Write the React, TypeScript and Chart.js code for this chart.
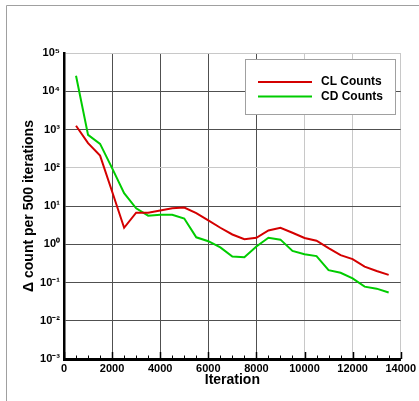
import React, { useEffect, useRef } from "react";
import { Chart, registerables } from "chart.js";

Chart.register(...registerables);

const iterations = [500, 1000, 1500, 2000, 2500, 3000, 3500, 4000, 4500, 5000, 5500, 6000, 6500, 7000, 7500, 8000, 8500, 9000, 9500, 10000, 10500, 11000, 11500, 12000, 12500, 13000, 13500];
const clCounts = [1250, 440, 208, 24, 2.7, 6.7, 6.7, 7.6, 8.7, 9.1, 6.5, 4.2, 2.7, 1.8, 1.35, 1.48, 2.3, 2.7, 2.0, 1.46, 1.24, 0.79, 0.52, 0.41, 0.26, 0.2, 0.158];
const cdCounts = [25500, 725, 420, 98, 21.6, 8.7, 5.6, 5.9, 5.9, 4.7, 1.52, 1.2, 0.83, 0.48, 0.46, 0.87, 1.48, 1.32, 0.67, 0.55, 0.49, 0.21, 0.18, 0.128, 0.078, 0.069, 0.055];
const yDecades = [1e-3, 1e-2, 1e-1, 1e0, 1e1, 1e2, 1e3, 1e4, 1e5];
const seriesNames = ["CL Counts", "CD Counts"];
const seriesColors = ["#d40000", "#00cc00"];

const SUP: Record<string, string> = { "-": "⁻", "0": "⁰", "1": "¹", "2": "²", "3": "³", "4": "⁴", "5": "⁵", "6": "⁶", "7": "⁷", "8": "⁸", "9": "⁹" };
const supStr = (n: number) => String(n).split("").map((c) => SUP[c] || c).join("");

const FONT = "Arial, 'Liberation Sans', Helvetica, sans-serif";

const framePlugin = {
  id: "frame",
  beforeDraw(chart: any) {
    const ctx = chart.ctx;
    ctx.save();
    ctx.fillStyle = "#ffffff";
    ctx.fillRect(0, 0, chart.width, chart.height);
    ctx.strokeStyle = "#a0a0a0";
    ctx.lineWidth = 1;
    ctx.beginPath();
    ctx.moveTo(6.5, chart.height + 5);
    ctx.lineTo(6.5, 5.5);
    ctx.lineTo(chart.width + 5, 5.5);
    ctx.stroke();
    ctx.restore();
  },
  afterDraw(chart: any) {
    const ctx = chart.ctx;
    const xs = chart.scales.x;
    const area = chart.chartArea;
    ctx.save();
    // inward ticks on bottom axis
    ctx.strokeStyle = "#000";
    for (let v = 0; v <= 14000; v += 500) {
      const px = Math.round(xs.getPixelForValue(v)) + 0.5;
      const major = v % 2000 === 0;
      ctx.lineWidth = major ? 1.5 : 1;
      ctx.beginPath();
      ctx.moveTo(px, area.bottom);
      ctx.lineTo(px, area.bottom - (major ? 7 : 3.5));
      ctx.stroke();
    }
    // legend box
    const bx = 245.5, by = 59.5, bw = 150, bh = 55;
    ctx.fillStyle = "#ffffff";
    ctx.fillRect(bx, by, bw, bh);
    ctx.strokeStyle = "#a0a0a0";
    ctx.lineWidth = 1;
    ctx.strokeRect(bx, by, bw, bh);
    const rows = [82, 96.5];
    seriesNames.forEach((name, i) => {
      ctx.strokeStyle = seriesColors[i];
      ctx.lineWidth = 2;
      ctx.beginPath();
      ctx.moveTo(258, rows[i]);
      ctx.lineTo(312, rows[i]);
      ctx.stroke();
      ctx.fillStyle = "#000";
      ctx.font = `bold 12px ${FONT}`;
      ctx.textBaseline = "middle";
      ctx.textAlign = "left";
      ctx.fillText(name, 321, rows[i]);
    });
    ctx.restore();
  },
};

export default function App() {
  const ref = useRef<HTMLCanvasElement | null>(null);
  useEffect(() => {
    if (!ref.current) return;
    const dark = "#505050";
    const light = "#c8c8c8";
    const chart = new Chart(ref.current, {
      type: "line",
      data: {
        datasets: seriesNames.map((name, i) => ({
          label: name,
          data: iterations.map((x, j) => ({ x, y: (i === 0 ? clCounts : cdCounts)[j] })),
          borderColor: seriesColors[i],
          backgroundColor: seriesColors[i],
          borderWidth: 2,
          pointRadius: 0,
          tension: 0,
          fill: false,
        })),
      },
      options: {
        animation: false,
        responsive: false,
        maintainAspectRatio: false,
        layout: { padding: { top: 53, right: 18, left: 0, bottom: 0 } },
        plugins: { legend: { display: false }, tooltip: { enabled: false } },
        scales: {
          x: {
            type: "linear",
            min: 0,
            max: 14000,
            ticks: {
              stepSize: 2000,
              padding: 3,
              color: "#000",
              font: { family: FONT, size: 11, weight: "bold" },
              maxRotation: 0,
              callback: (v: any) => String(v),
            },
            grid: {
              drawTicks: false,
              color: (c: any) => {
                const v = c.tick ? c.tick.value : 0;
                return v >= 10000 ? light : dark;
              },
              lineWidth: 1,
            },
            border: { display: true, color: "#000", width: 3 },
            title: {
              display: true,
              text: "Iteration",
              color: "#000",
              font: { family: FONT, size: 14, weight: "bold" },
              padding: { top: 0, bottom: 12 },
            },
            afterFit: (s: any) => {
              s.height = 42;
            },
          },
          y: {
            type: "logarithmic",
            min: 1e-3,
            max: 1e5,
            afterBuildTicks: (s: any) => {
              s.ticks = yDecades.map((v) => ({ value: v }));
            },
            ticks: {
              padding: 4,
              color: "#000",
              font: { family: FONT, size: 11, weight: "bold" },
              callback: (v: any) => "10" + supStr(Math.round(Math.log10(Number(v)))),
            },
            grid: {
              drawTicks: false,
              color: (c: any) => {
                const v = c.tick ? c.tick.value : 1;
                const e = Math.round(Math.log10(v));
                return e === 2 || e === 5 ? light : dark;
              },
              lineWidth: 1,
            },
            border: { display: true, color: "#000", width: 2.5 },
            title: {
              display: true,
              text: "Δ count per 500 iterations",
              color: "#000",
              font: { family: FONT, size: 14, weight: "bold" },
              padding: { top: 20.5, bottom: 0 },
            },
            afterFit: (s: any) => {
              s.width = 64;
            },
          },
        },
      },
      plugins: [framePlugin],
    });
    return () => chart.destroy();
  }, []);
  return (
    <div style={{ position: "fixed", left: 0, top: 0, width: 419, height: 401 }}>
      <canvas ref={ref} width={419} height={401} style={{ display: "block", width: 419, height: 401 }} />
    </div>
  );
}
